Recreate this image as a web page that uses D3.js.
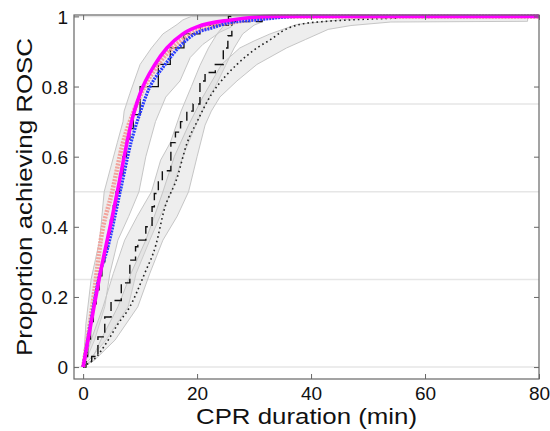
<!DOCTYPE html>
<html>
<head>
<meta charset="utf-8">
<script src="https://cdn.jsdelivr.net/npm/d3@7"></script>
<style>
  body { margin: 0; background: #fff; }
  svg { display: block; font-family: "Liberation Sans", Arial, sans-serif; }
</style>
</head>
<body>
<div id="chart"></div>
<script>
// x = CPR duration (min), y = proportion achieving ROSC

// smooth fitted curves
const fitMagenta = [[0,0],[1,0.09],[2,0.18],[2.8,0.25],[3.8,0.33],[5,0.42],[6,0.5],[7.7,0.64],[8.5,0.7],[10,0.78],[12.6,0.863],[14.7,0.91],[17.5,0.95],[20,0.97],[26,0.99],[33,1],[80,1]];
const fitBlue = [[0,0],[1,0.095],[2,0.19],[3,0.27],[4.2,0.333],[6.5,0.5],[8.4,0.64],[10.1,0.73],[11.2,0.78],[14.4,0.863],[16.7,0.91],[19.6,0.95],[22.8,0.968],[25.6,0.982],[30.5,0.99],[38,1],[80,1]];
const fitSalmon = [[0,0],[1.2,0.125],[2,0.22],[3.1,0.362],[5.1,0.5],[7,0.64],[8.9,0.73],[10.5,0.79],[13.5,0.87],[16,0.915],[19,0.95],[22,0.97],[27,0.985],[35,1],[80,1]];

// Kaplan-Meier style step curves
const kmSolid = [[0,0],[0.3,0.03],[0.8,0.08],[1.3,0.13],[1.8,0.18],[2.3,0.22],[2.8,0.26],[3.3,0.3],[3.8,0.34],[4.3,0.38],[4.8,0.42],[5.3,0.46],[5.8,0.5],[6.4,0.55],[7,0.6],[7.6,0.65],[8.2,0.68],[8.8,0.72],[10,0.8],[13.2,0.863],[15.3,0.91],[17.7,0.95],[20.5,0.975],[25.5,1],[26,1]];
const kmDashed = [[0,0],[0.5,0.015],[1.5,0.03],[2.6,0.086],[3.8,0.143],[4.9,0.19],[6.7,0.24],[8.2,0.305],[9.2,0.343],[9.6,0.362],[11,0.4],[12.1,0.457],[12.5,0.495],[13.2,0.53],[13.9,0.56],[15.4,0.64],[16.2,0.67],[17.1,0.7],[18.2,0.73],[19.3,0.75],[20.5,0.816],[21.4,0.84],[23.2,0.863],[24.6,0.91],[25.4,0.945],[26.1,0.985],[31.4,1],[31.6,1]];
const kmDotted = [[0,0],[0.4,0.005],[1.8,0.02],[4.4,0.077],[6,0.12],[8.2,0.172],[10.8,0.267],[12.8,0.35],[14.2,0.447],[16.5,0.54],[18.2,0.637],[20,0.7],[22.6,0.78],[25,0.83],[27,0.863],[30.5,0.91],[33,0.935],[35,0.958],[38,0.977],[42,0.985],[47,0.99],[55,0.995]];

// confidence bands: upper (left) and lower (right) edges
const bandSolidHi = [[0,0],[0.5,0.125],[1.4,0.25],[2.9,0.362],[3.7,0.5],[6,0.64],[7,0.7],[7.2,0.73],[8.2,0.78],[10,0.863],[12,0.91],[14,0.95],[16.5,0.977],[17.5,0.99],[19,1],[26,1]];
const bandSolidLo = [[0,0],[2,0.077],[3.8,0.172],[4.7,0.267],[6.1,0.362],[8,0.43],[9.8,0.5],[11,0.6],[12.7,0.7],[14.5,0.77],[17,0.816],[18.8,0.883],[21,0.92],[24,0.955],[26,0.97],[26,1]];
const bandDashedHi = [[0,0],[1.4,0.077],[3.5,0.172],[5.3,0.267],[7.3,0.362],[9.5,0.43],[12,0.5],[13.6,0.59],[15.3,0.64],[17.2,0.73],[19,0.8],[20.5,0.86],[22,0.91],[23.5,0.95],[25,0.98],[26,1],[31.5,1]];
const bandDashedLo = [[0,0],[4,0.077],[7.9,0.172],[9.3,0.267],[11.7,0.362],[13.5,0.43],[15.5,0.5],[17.5,0.6],[19.5,0.68],[21.5,0.75],[23.5,0.81],[25,0.86],[26.5,0.91],[28,0.95],[30,0.975],[31.5,0.985],[31.5,1]];
const bandDottedHi = [[0,0],[1.5,0.02],[3.1,0.077],[6.1,0.172],[8.4,0.267],[11,0.362],[12.5,0.43],[14,0.5],[16,0.6],[18.5,0.69],[21,0.77],[24.3,0.863],[27.5,0.91],[30,0.93],[32.8,0.95],[37.5,0.977],[45,0.99],[54,1],[78,1]];
const bandDottedLo = [[0,0],[2,0.02],[5.6,0.077],[9.6,0.172],[11.7,0.267],[14,0.362],[16.5,0.43],[18.5,0.5],[20,0.6],[21.4,0.69],[22.5,0.73],[24,0.77],[27,0.816],[30.5,0.863],[35.7,0.91],[39,0.934],[43,0.963],[47,0.974],[54,0.984],[78,0.986]];

const xTicks = [0, 20, 40, 60, 80];
const yTicks = [0, 0.2, 0.4, 0.6, 0.8, 1];
const gridLevels = [0, 0.25, 0.5, 0.75, 1];

const width = 550, height = 431,
      margin = ({ top: 15, right: 11, bottom: 52, left: 74 });

const svg = d3.select("#chart").append("svg")
    .attr("width", width)
    .attr("height", height);

const x = d3.scaleLinear()
    .domain([-1.6, 80])
    .range([margin.left, width - margin.right]);

const y = d3.scaleLinear()
    .domain([-0.034, 1.004])
    .range([height - margin.bottom, margin.top]);

// light horizontal guides
svg.append("g")
  .selectAll("line")
  .data(gridLevels)
  .join("line")
    .attr("x1", margin.left)
    .attr("x2", width - margin.right)
    .attr("y1", d => y(d))
    .attr("y2", d => y(d))
    .attr("stroke", "#e6e6e6")
    .attr("stroke-width", 1.5);

// bands
const edge = d3.line().x(d => x(d[0])).y(d => y(d[1]));
const bands = [
  [bandSolidHi, bandSolidLo],
  [bandDashedHi, bandDashedLo],
  [bandDottedHi, bandDottedLo]
];
svg.append("g")
  .selectAll("path")
  .data(bands)
  .join("path")
    .attr("d", d => edge(d[0].concat(d[1].slice().reverse())) + "Z")
    .attr("fill", "#d6d6d6")
    .attr("fill-opacity", 0.42)
    .attr("stroke", "#c6c6c6")
    .attr("stroke-width", 1);

// step curves
const step = d3.line().x(d => x(d[0])).y(d => y(d[1])).curve(d3.curveStepAfter);
const smooth = d3.line().x(d => x(d[0])).y(d => y(d[1])).curve(d3.curveMonotoneX);

svg.append("path")
    .attr("d", smooth(kmDotted))
    .attr("fill", "none")
    .attr("stroke", "#222")
    .attr("stroke-width", 1.6)
    .attr("stroke-dasharray", "1.6,3");

svg.append("path")
    .attr("d", step(kmDashed))
    .attr("fill", "none")
    .attr("stroke", "#111")
    .attr("stroke-width", 1.4)
    .attr("stroke-dasharray", "9,5");

svg.append("path")
    .attr("d", step(kmSolid))
    .attr("fill", "none")
    .attr("stroke", "#111")
    .attr("stroke-width", 1.3);

// fitted curves
svg.append("path")
    .attr("d", smooth(fitSalmon))
    .attr("fill", "none")
    .attr("stroke", "#f2a39c")
    .attr("stroke-width", 4.5)
    .attr("stroke-dasharray", "2,1.2");

svg.append("path")
    .attr("d", smooth(fitBlue))
    .attr("fill", "none")
    .attr("stroke", "#2a3cff")
    .attr("stroke-width", 3.2)
    .attr("stroke-dasharray", "2,1");

svg.append("path")
    .attr("d", smooth(fitMagenta))
    .attr("fill", "none")
    .attr("stroke", "#ff00ff")
    .attr("stroke-width", 3.6);

// box and ticks
const axisColor = "#666";
svg.append("rect")
    .attr("x", margin.left)
    .attr("y", margin.top)
    .attr("width", width - margin.left - margin.right)
    .attr("height", height - margin.top - margin.bottom)
    .attr("fill", "none")
    .attr("stroke", axisColor)
    .attr("stroke-width", 1.2);

const styleAxis = g => {
  g.select(".domain").remove();
  g.selectAll(".tick line").attr("stroke", axisColor);
  g.selectAll(".tick text").attr("fill", "#111").attr("font-size", 19);
};

svg.append("g")
    .attr("transform", `translate(${margin.left},0)`)
    .call(d3.axisLeft(y).tickValues(yTicks).tickSize(-5).tickPadding(6).tickFormat(d3.format("~g")))
    .call(styleAxis)
    .call(g => g.selectAll(".tick text").attr("dy", "0.36em"));

svg.append("g")
    .attr("transform", `translate(${width - margin.right},0)`)
    .call(d3.axisRight(y).tickValues(yTicks).tickSize(-5).tickFormat(""))
    .call(styleAxis);

svg.append("g")
    .attr("transform", `translate(0,${height - margin.bottom})`)
    .call(d3.axisBottom(x).tickValues(xTicks).tickSize(-5).tickPadding(8))
    .call(styleAxis);

svg.append("g")
    .attr("transform", `translate(0,${margin.top})`)
    .call(d3.axisTop(x).tickValues(xTicks).tickSize(-5).tickFormat(""))
    .call(styleAxis);

// axis titles (text is slightly wider than the plain font)
svg.append("text")
    .attr("x", (margin.left + width - margin.right) / 2)
    .attr("y", 424)
    .attr("text-anchor", "middle")
    .attr("font-size", 22)
    .attr("textLength", 221)
    .attr("lengthAdjust", "spacingAndGlyphs")
    .attr("fill", "#111")
    .text("CPR duration (min)");

svg.append("text")
    .attr("transform", `translate(32,${(margin.top + height - margin.bottom) / 2}) rotate(-90)`)
    .attr("text-anchor", "middle")
    .attr("font-size", 22)
    .attr("textLength", 318)
    .attr("lengthAdjust", "spacingAndGlyphs")
    .attr("fill", "#111")
    .text("Proportion achieving ROSC");
</script>
</body>
</html>
